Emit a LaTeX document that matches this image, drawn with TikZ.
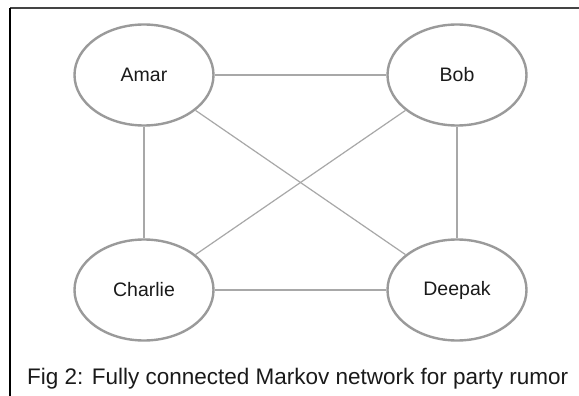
\documentclass[tikz,border=0pt]{standalone}
\usepackage{fontspec}
\setmainfont{Liberation Sans}
\usetikzlibrary{shapes.geometric}
\definecolor{ringgray}{HTML}{9A9A9A}
\definecolor{edgegray}{HTML}{A8A8A8}
\definecolor{framegray}{HTML}{444444}
\definecolor{txt}{HTML}{1A1A1A}
\begin{document}
\begin{tikzpicture}[x=1pt,y=-1pt,
  person/.style={ellipse,draw=ringgray,line width=2.4pt,minimum width=139pt,minimum height=101pt,inner sep=0pt,text=txt,font=\fontsize{19.5}{23}\selectfont},
  link/.style={draw=edgegray,line width=1.2pt}]
\useasboundingbox (0,0) rectangle (579,396);
\fill[white] (0,0) rectangle (579,396);
\draw[framegray,line width=2pt] (10,8) -- (579,8);
\draw[black,line width=1.4pt] (10,8) -- (10,396);
\node[person] (amar) at (144,75) {Amar};
\node[person] (bob) at (457,75) {Bob};
\node[person] (charlie) at (144,290) {Charlie};
\node[person] (deepak) at (457,290) {Deepak};
\draw[link] (amar) -- (bob);
\draw[link] (amar) -- (charlie);
\draw[link] (bob) -- (deepak);
\draw[link] (charlie) -- (deepak);
\draw[link] (amar) -- (deepak);
\draw[link] (bob) -- (charlie);
\node[anchor=base west,inner sep=0pt,text=txt,font=\fontsize{22.5}{26}\selectfont] (cap) at (27,384) {Fig 2: Fully connected Markov network for party rumor};
\end{tikzpicture}
\end{document}
